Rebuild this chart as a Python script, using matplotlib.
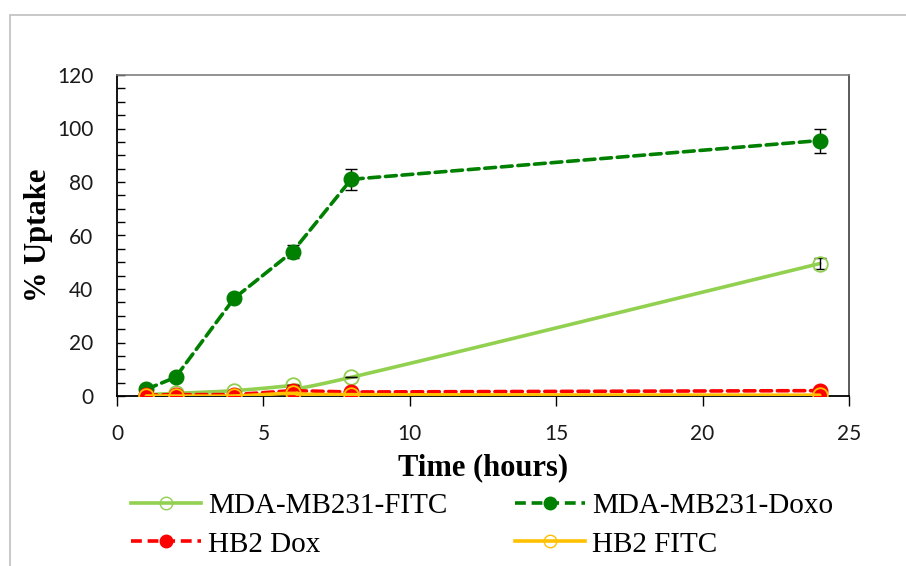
import numpy as np
import matplotlib
matplotlib.use("Agg")
import matplotlib.pyplot as plt
from matplotlib.ticker import MultipleLocator
from matplotlib.patches import Rectangle
from matplotlib.lines import Line2D

# Time points (hours)
hours = [1, 2, 4, 6, 8, 24]

# % uptake per cell line / label
mda_fitc = [0.5, 1.0, 2.0, 4.0, 7.0, 49.5]
mda_fitc_err = [0, 0, 0, 0, 0, 2.0]
mda_doxo = [2.5, 7.0, 36.5, 54.0, 81.0, 95.5]
mda_doxo_err = [0, 0, 0, 2.5, 4.0, 4.5]
hb2_dox = [0.3, 0.5, 0.5, 2.0, 1.5, 2.0]
hb2_fitc = [0.0, 0.0, 0.0, 1.0, 0.5, 0.3]

labels = ["MDA-MB231-FITC", "MDA-MB231-Doxo", "HB2 Dox", "HB2 FITC"]

C_FITC = "#92D050"
C_DOXO = "#008000"
C_HB2D = "#FF0000"
C_HB2F = "#FFC000"

TICK_FONT = "Lato"
SERIF = "Liberation Serif"


def smooth(x, y, n=40):
    """Catmull-Rom curve through the given points (spreadsheet-style smoothed line)."""
    x = np.asarray(x, float)
    y = np.asarray(y, float)
    px = np.concatenate([[2 * x[0] - x[1]], x, [2 * x[-1] - x[-2]]])
    py = np.concatenate([[2 * y[0] - y[1]], y, [2 * y[-1] - y[-2]]])
    xs, ys = [], []
    t = np.linspace(0, 1, n)
    for i in range(1, len(px) - 2):
        p0, p1, p2, p3 = (np.array([px[j], py[j]]) for j in range(i - 1, i + 3))
        for tt in t:
            pt = 0.5 * ((2 * p1) + (-p0 + p2) * tt
                        + (2 * p0 - 5 * p1 + 4 * p2 - p3) * tt ** 2
                        + (-p0 + 3 * p1 - 3 * p2 + p3) * tt ** 3)
            xs.append(pt[0])
            ys.append(pt[1])
    return np.array(xs), np.array(ys)


fig = plt.figure(figsize=(9.06, 5.66), dpi=100)
ax = fig.add_axes([117 / 906, 1 - 396 / 566, (849 - 117) / 906, (396 - 75) / 566])

# outer chart-area border
fig.add_artist(Rectangle((10 / 906, -0.05), 1.0, 1 - 15 / 566 + 0.05,
                         transform=fig.transFigure, fill=False,
                         edgecolor="#BFBFBF", linewidth=1.2))

lw = 2.6
ms = 10.5
dash = (0, (3, 1.6))

# MDA-MB231-FITC: smoothed solid line, open markers
sx, sy = smooth(hours, mda_fitc)
ax.plot(sx, sy, color=C_FITC, lw=lw, solid_capstyle="round", zorder=2)
ax.errorbar(hours, mda_fitc, yerr=mda_fitc_err, fmt="none", ecolor="black",
            elinewidth=1.0, capsize=4, capthick=1.0, zorder=3)
ax.plot(hours, mda_fitc, ls="none", marker="o", ms=ms, mfc="none",
        mec=C_FITC, mew=1.3, zorder=4)

# MDA-MB231-Doxo: dashed line, filled markers
ax.errorbar(hours, mda_doxo, yerr=mda_doxo_err, fmt="none", ecolor="black",
            elinewidth=1.0, capsize=4, capthick=1.0, zorder=3)
ax.plot(hours, mda_doxo, color=C_DOXO, lw=lw, ls=dash,
        dash_capstyle="round", marker="o", ms=ms, mfc=C_DOXO, mec=C_DOXO,
        zorder=5)

# HB2 Dox: dashed red, filled markers
ax.plot(hours, hb2_dox, color=C_HB2D, lw=lw, ls=dash,
        dash_capstyle="round", marker="o", ms=ms, mfc=C_HB2D, mec=C_HB2D,
        zorder=6)

# HB2 FITC: solid orange, open markers
hx, hy = smooth(hours, hb2_fitc)
ax.plot(hx, hy, color=C_HB2F, lw=lw, solid_capstyle="round", zorder=7)
ax.plot(hours, hb2_fitc, ls="none", marker="o", ms=ms, mfc="none",
        mec=C_HB2F, mew=1.3, zorder=7)

ax.set_xlim(0, 25)
ax.set_ylim(0, 120)
ax.xaxis.set_major_locator(MultipleLocator(5))
ax.yaxis.set_major_locator(MultipleLocator(20))
ax.yaxis.set_minor_locator(MultipleLocator(5))
ax.tick_params(axis="y", which="both", direction="in", length=6, width=1.0,
               color="black")
ax.tick_params(axis="y", which="major", pad=17)
ax.tick_params(axis="x", which="major", direction="out", length=7, width=1.0,
               color="black", pad=13)
ax.tick_params(axis="both", labelsize=15)
for lab in ax.get_xticklabels() + ax.get_yticklabels():
    lab.set_fontfamily(TICK_FONT)
    lab.set_color("#1a1a1a")

ax.spines["left"].set_color("black")
ax.spines["bottom"].set_color("black")
ax.spines["left"].set_linewidth(1.3)
ax.spines["bottom"].set_linewidth(1.3)
ax.spines["top"].set_color("#7F7F7F")
ax.spines["right"].set_color("#404040")
ax.spines["top"].set_linewidth(1.2)
ax.spines["right"].set_linewidth(1.2)

ax.set_xlabel("Time (hours)", fontfamily=SERIF, fontweight="bold",
              fontsize=22, labelpad=7)
ax.set_ylabel("% Uptake", fontfamily=SERIF, fontweight="bold",
              fontsize=22, labelpad=3)

# Legend handles, ordered so the two columns read row by row
h_fitc = Line2D([], [], color=C_FITC, lw=lw, marker="o", ms=9, mfc="none", mec=C_FITC)
h_doxo = Line2D([], [], color=C_DOXO, lw=lw, ls=dash, marker="o", ms=9,
                mfc=C_DOXO, mec=C_DOXO)
h_hb2d = Line2D([], [], color=C_HB2D, lw=lw, ls=dash, marker="o", ms=9,
                mfc=C_HB2D, mec=C_HB2D)
h_hb2f = Line2D([], [], color=C_HB2F, lw=lw, marker="o", ms=9, mfc="none", mec=C_HB2F)
fig.legend([h_fitc, h_hb2d, h_doxo, h_hb2f],
           [labels[0], labels[2], labels[1], labels[3]],
           loc="center", bbox_to_anchor=(482 / 906, 1 - 525 / 566),
           ncol=2, frameon=False, prop={"family": SERIF, "size": 21},
           handlelength=2.4, handletextpad=0.25, columnspacing=2.3,
           labelspacing=0.42)

fig.savefig("out.png", dpi=100)
